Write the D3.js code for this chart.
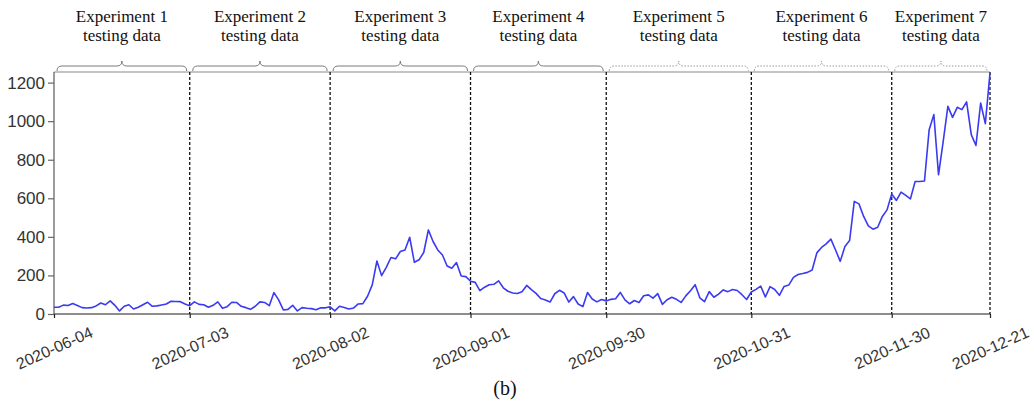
<!DOCTYPE html>
<html>
<head>
<meta charset="utf-8">
<script src="https://cdn.jsdelivr.net/npm/d3@7"></script>
<style>
  html, body { margin: 0; padding: 0; background: #fff; }
  svg { display: block; }
</style>
</head>
<body>
<svg id="chart" width="1034" height="405"></svg>
<script>
// ---- data ----
const startDate = "2020-06-04";
const values = [
  35,35,46,44,54,44,33,31,33,42,
  57,48,68,45,16,40,48,26,35,48,
  61,40,42,47,52,66,65,64,52,43,
  63,50,48,35,45,63,30,38,61,60,
  40,33,24,40,63,60,43,111,73,21,
  24,45,16,33,30,28,22,32,32,37,
  16,40,34,26,31,52,54,92,151,275,
  199,242,293,286,324,332,398,268,281,319,
  436,376,332,306,249,237,267,197,194,170,
  164,121,139,152,154,172,136,118,109,106,
  115,148,126,107,80,73,62,105,123,109,
  62,90,52,38,111,78,63,75,68,76,
  79,112,73,53,70,60,95,99,82,106,
  50,74,87,76,60,94,121,152,84,64,
  116,87,103,125,116,127,122,100,75,114,
  128,145,88,142,127,97,143,150,190,205,
  210,216,228,317,345,364,388,332,273,350,
  381,584,571,506,457,440,450,506,540,622,
  589,632,615,597,687,687,690,956,1034,722,
  895,1077,1020,1072,1060,1100,930,874,1094,987,1250
];
const tickDates = ["2020-06-04","2020-07-03","2020-08-02","2020-09-01","2020-09-30","2020-10-31","2020-11-30","2020-12-21"];
const yTicks = [0,200,400,600,800,1000,1200];
const expLabels = ["Experiment 1","Experiment 2","Experiment 3","Experiment 4","Experiment 5","Experiment 6","Experiment 7"];
const expSub = "testing data";
const expDotted = [false,false,false,false,true,true,true];
const panelLabel = "(b)";

// ---- drawing ----
const parse = d3.utcParse("%Y-%m-%d");
const t0 = parse(startDate);
const series = values.map((v, i) => ({ date: d3.utcDay.offset(t0, i), value: v }));
const ticks = tickDates.map(parse);

const pL = 54, pR = 990, pT = 72, pB = 314;
const x = d3.scaleUtc().domain([ticks[0], ticks[ticks.length - 1]]).range([pL, pR]);
const y = d3.scaleLinear().domain([0, 1255]).range([pB, pT]);

const svg = d3.select("#chart");
svg.append("rect").attr("width", 1034).attr("height", 405).attr("fill", "#fff");

// frame top
svg.append("line").attr("x1", pL).attr("x2", pR).attr("y1", pT).attr("y2", pT)
  .attr("stroke", "#8a8a8a").attr("stroke-width", 1.2);

// y axis
const yAxis = d3.axisLeft(y).tickValues(yTicks).tickSize(6).tickPadding(3).tickFormat(d3.format("d"));
const gy = svg.append("g").attr("transform", `translate(${pL},0)`).call(yAxis);
gy.select(".domain").attr("stroke", "#666").attr("stroke-width", 1.3).attr("d", `M0,${pT}V${pB}`);
gy.selectAll(".tick line").attr("stroke", "#666").attr("stroke-width", 1.2);
gy.selectAll(".tick text").attr("fill", "#333").style("font-family", "'Liberation Sans', Arial, sans-serif").style("font-size", "17px");

// x axis
const xAxis = d3.axisBottom(x).tickValues(ticks).tickSize(4).tickFormat(d3.utcFormat("%Y-%m-%d"));
const gx = svg.append("g").attr("transform", `translate(0,${pB})`).call(xAxis);
gx.select(".domain").attr("stroke", "#666").attr("stroke-width", 1.3).attr("d", `M${pL},0H${pR}`);
gx.selectAll(".tick line").attr("stroke", "#222").attr("stroke-width", 1.2);
gx.selectAll(".tick text")
  .attr("fill", "#333")
  .style("font-family", "'Liberation Sans', Arial, sans-serif")
  .style("font-size", "16px")
  .attr("text-anchor", "middle")
  .attr("dy", null)
  .attr("y", 0)
  .attr("dominant-baseline", "central")
  .attr("transform", "translate(0,34) rotate(-24)");

// dashed separators
svg.append("g").selectAll("line").data(ticks.slice(1)).join("line")
  .attr("x1", d => x(d)).attr("x2", d => x(d))
  .attr("y1", pT).attr("y2", pB)
  .attr("stroke", "#111").attr("stroke-width", 1.3).attr("stroke-dasharray", "3,2");

// data line
svg.append("path").datum(series)
  .attr("fill", "none").attr("stroke", "#3a3af2").attr("stroke-width", 1.6)
  .attr("stroke-linejoin", "round")
  .attr("d", d3.line().x(d => x(d.date)).y(d => y(d.value)));

// braces and experiment labels
const segs = d3.range(ticks.length - 1).map(i => ({ a: ticks[i], b: ticks[i + 1], i }));
const braceG = svg.append("g");
segs.forEach(s => {
  const x0 = x(s.a) + 3, x1 = x(s.b) - 3, m = (x0 + x1) / 2;
  const yb = pT - 1, yl = pT - 6, yc = pT - 11;
  const p = d3.path();
  p.moveTo(x0, yb);
  p.quadraticCurveTo(x0, yl, x0 + 5, yl);
  p.lineTo(m - 5, yl);
  p.quadraticCurveTo(m, yl, m, yc);
  p.quadraticCurveTo(m, yl, m + 5, yl);
  p.lineTo(x1 - 5, yl);
  p.quadraticCurveTo(x1, yl, x1, yb);
  braceG.append("path").attr("d", p.toString()).attr("fill", "none")
    .attr("stroke", expDotted[s.i] ? "#9a9a9a" : "#7a7a7a")
    .attr("stroke-width", 1)
    .attr("stroke-dasharray", expDotted[s.i] ? "1.5,1.5" : null);
  const font = "'Liberation Serif', 'Times New Roman', serif";
  svg.append("text").attr("x", m).attr("y", 22).attr("text-anchor", "middle")
    .style("font-family", font).style("font-size", "17px").attr("fill", "#111")
    .text(expLabels[s.i]);
  svg.append("text").attr("x", m).attr("y", 41).attr("text-anchor", "middle")
    .style("font-family", font).style("font-size", "17px").attr("fill", "#111")
    .text(expSub);
});

// panel label
svg.append("text").attr("x", 505).attr("y", 395).attr("text-anchor", "middle")
  .style("font-family", "'Liberation Serif', 'Times New Roman', serif")
  .style("font-size", "20px").attr("fill", "#111").text(panelLabel);
</script>
</body>
</html>
